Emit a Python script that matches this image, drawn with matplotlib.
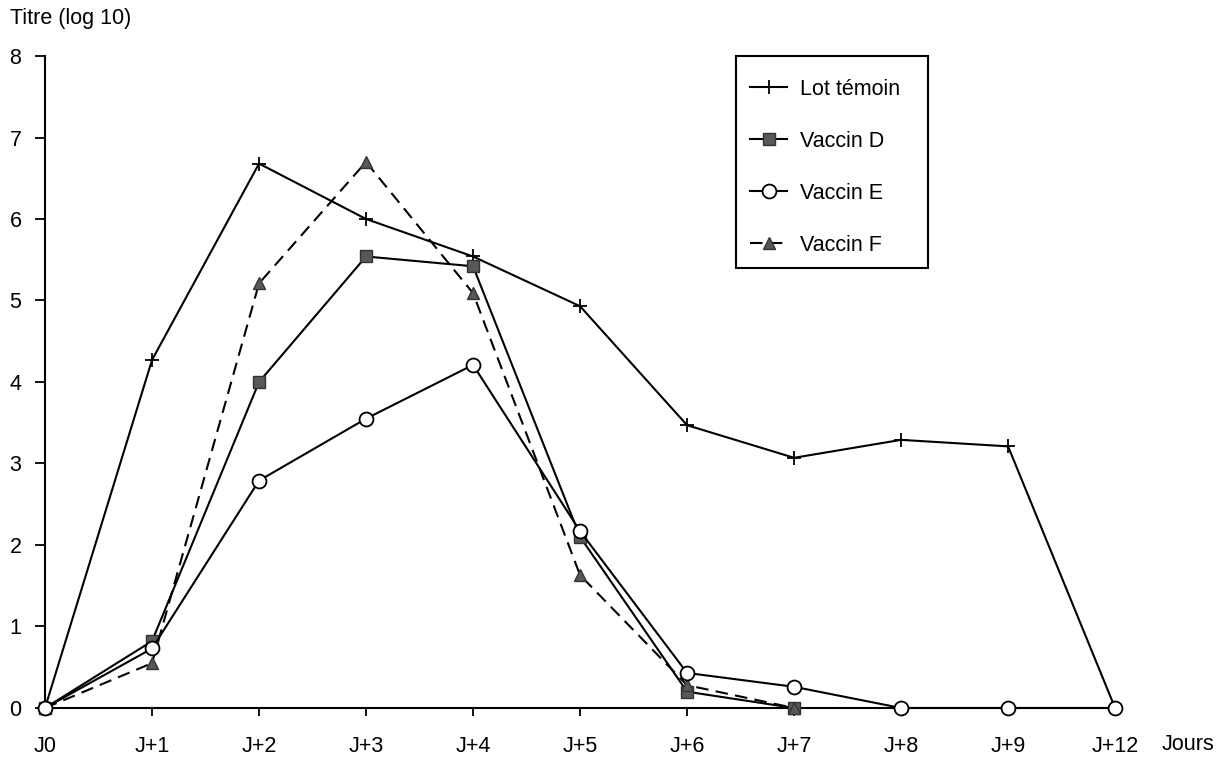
import matplotlib
matplotlib.use("Agg")
import matplotlib.pyplot as plt
from matplotlib.patches import Rectangle
import numpy as np

plt.rcParams['font.family'] = ['Liberation Sans', 'DejaVu Sans']

days = ["J0", "J+1", "J+2", "J+3", "J+4", "J+5", "J+6", "J+7", "J+8", "J+9", "J+12"]
temoin = [0.0, 4.27, 6.68, 6.0, 5.54, 4.93, 3.47, 3.07, 3.29, 3.21, 0.0]
vaccin_d = [0.0, 0.82, 4.0, 5.54, 5.42, 2.1, 0.2, 0.0]
vaccin_e = [0.0, 0.73, 2.79, 3.55, 4.21, 2.17, 0.43, 0.26, 0.0, 0.0, 0.0]
vaccin_f = [0.0, 0.55, 5.21, 6.70, 5.09, 1.63, 0.28, 0.0]
yticks = [0, 1, 2, 3, 4, 5, 6, 7, 8]

fig = plt.figure(figsize=(12.2, 7.63), dpi=100)
ax = fig.add_axes([0.0369, 0.0721, 0.8815, 0.8545])

fs = 15.5
lw = 1.5
gray = '#585858'

ax.plot(range(len(temoin)), temoin, color='black', lw=lw, marker='+',
        markersize=10, mew=1.3, label='Lot témoin', zorder=3)
ax.plot(range(len(vaccin_d)), vaccin_d, color='black', lw=lw, marker='s',
        markersize=8, mfc=gray, mec='#333333', mew=1.0, label='Vaccin D', zorder=4)
ax.plot(range(len(vaccin_f)), vaccin_f, color='black', lw=lw, ls=(0, (6, 3.5)),
        marker='^', markersize=9, mfc=gray, mec='#333333', mew=1.0,
        label='Vaccin F', zorder=4)
ax.plot(range(len(vaccin_e)), vaccin_e, color='black', lw=lw, marker='o',
        markersize=10, mfc='white', mec='black', mew=1.3, label='Vaccin E', zorder=5)

ax.set_xlim(0, 10.05)
ax.set_ylim(0, 8)
ax.set_xticks(range(len(days)))
ax.set_xticklabels(days, fontsize=fs)
ax.set_yticks(yticks)
ax.set_yticklabels([str(v) for v in yticks], fontsize=fs)
for s in ['top', 'right']:
    ax.spines[s].set_visible(False)
ax.spines['left'].set_linewidth(1.5)
ax.spines['bottom'].set_linewidth(1.5)
ax.spines['left'].set_zorder(1)
ax.spines['bottom'].set_zorder(1)
ax.tick_params(axis='y', direction='out', length=7, width=1.3, pad=10)
ax.tick_params(axis='x', direction='out', length=6, width=1.3, pad=14)
for l in ax.lines:
    l.set_clip_on(False)

fig.text(0.0082, 0.976, "Titre (log 10)", fontsize=fs, ha='left', va='center')
fig.text(0.9525, 0.0236, "Jours", fontsize=fs, ha='left', va='center')

handles, labels = ax.get_legend_handles_labels()
order = [labels.index(n) for n in ['Lot témoin', 'Vaccin D', 'Vaccin E', 'Vaccin F']]
leg = fig.legend([handles[i] for i in order], [labels[i] for i in order],
                 loc='upper left', bbox_to_anchor=(750 / 1220, 1 - 79 / 763),
                 frameon=False, fontsize=fs, handlelength=1.72,
                 handletextpad=0.6, labelspacing=1.44, borderpad=0.0,
                 borderaxespad=0.0)
fig.patches.append(Rectangle((736 / 1220, 1 - 268 / 763), (928 - 736) / 1220,
                             (268 - 56) / 763, transform=fig.transFigure,
                             fill=False, edgecolor='black', lw=1.5))

fig.savefig("out.png", dpi=100)
